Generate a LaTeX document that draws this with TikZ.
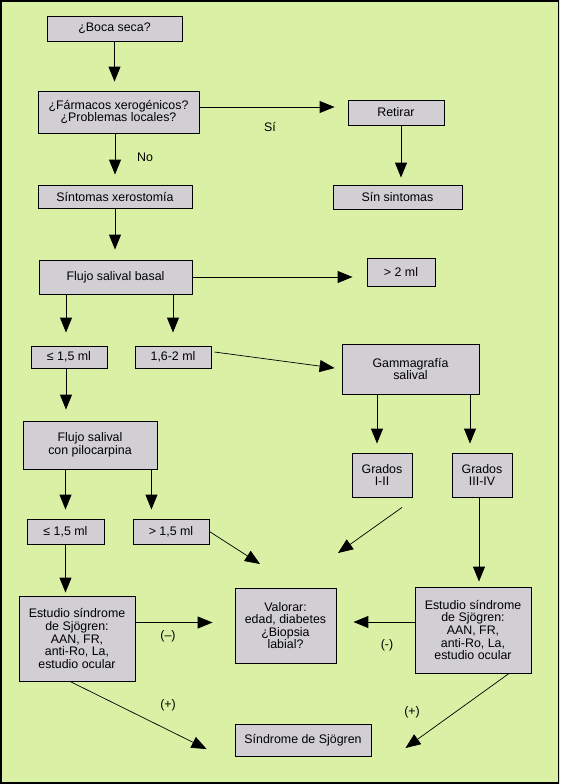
\documentclass[tikz,border=0pt]{standalone}
\usepackage{fontspec}
\setmainfont{Liberation Sans}
\usetikzlibrary{arrows.meta}
\definecolor{bggreen}{RGB}{217,240,165}
\definecolor{boxgray}{RGB}{209,207,211}
\begin{document}
\begin{tikzpicture}[
    x=1pt,y=-1pt,
    box/.style={draw,fill=boxgray,line width=.9pt,align=center,inner sep=0pt,
      font=\fontsize{12.4}{12.6}\selectfont},
    flow/.style={-{Triangle[length=15pt,width=12pt]},line width=1pt},
    thinflow/.style={-{Triangle[length=15pt,width=12pt]},line width=.7pt},
    lbl/.style={font=\fontsize{12.4}{12.6}\selectfont}
  ]
    \fill[bggreen] (0,0) rectangle (560,784);
    \useasboundingbox (0,0) rectangle (560,784);
    \draw[line width=1.5pt] (1,1) rectangle (558.5,783);
    \node[box,minimum width=135pt,minimum height=25pt] (boca) at (114.5,28.5) {¿Boca seca?};
    \node[box,minimum width=161pt,minimum height=42pt] (farm) at (118.5,112) {¿Fármacos xerogénicos?\\¿Problemas locales?};
    \node[box,minimum width=96pt,minimum height=25pt] (retirar) at (396,112.5) {Retirar};
    \node[box,minimum width=129pt,minimum height=24pt] (sinsint) at (397.5,197) {Sín sintomas};
    \node[box,minimum width=154pt,minimum height=23pt] (xero) at (115,196.5) {Síntomas xerostomía};
    \node[box,minimum width=153pt,minimum height=34pt] (basal) at (115.5,277) {Flujo salival basal};
    \node[box,minimum width=68pt,minimum height=28pt] (mas2) at (401,272) {> 2 ml};
    \node[box,minimum width=76pt,minimum height=22pt] (le1) at (69,357) {≤ 1,5 ml};
    \node[box,minimum width=76pt,minimum height=22pt] (mid) at (173,357) {1,6-2 ml};
    \node[box,minimum width=137pt,minimum height=50pt] (gamma) at (410.5,369) {Gammagrafía\\salival};
    \node[box,minimum width=60pt,minimum height=44pt] (gr12) at (382,475) {Grados\\I-II};
    \node[box,minimum width=60pt,minimum height=44pt] (gr34) at (482,475) {Grados\\III-IV};
    \node[box,minimum width=134pt,minimum height=48pt] (pilo) at (90,445) {Flujo salival\\con pilocarpina};
    \node[box,minimum width=77pt,minimum height=25pt] (le2) at (65.5,531.5) {≤ 1,5 ml};
    \node[box,minimum width=76pt,minimum height=25pt] (gt) at (171,531.5) {> 1,5 ml};
    \node[box,minimum width=116pt,minimum height=85pt] (estI) at (77,638.5) {Estudio síndrome\\de Sjögren:\\AAN, FR,\\anti-Ro, La,\\estudio ocular};
    \node[box,minimum width=101pt,minimum height=75pt] (valorar) at (285.5,625.5) {Valorar:\\edad, diabetes\\¿Biopsia\\labial?};
    \node[box,minimum width=116pt,minimum height=86pt] (estD) at (473,630) {Estudio síndrome\\de Sjögren:\\AAN, FR,\\anti-Ro, La,\\estudio ocular};
    \node[box,minimum width=136pt,minimum height=32pt] (sjogren) at (303,740) {Síndrome de Sjögren};
    \node[lbl] (si) at (270,127) {Sí};
    \node[lbl] (no) at (145,157) {No};
    \node[lbl] (negI) at (168,636) {(–)};
    \node[lbl] (posI) at (168,705) {(+)};
    \node[lbl] (negD) at (387,645) {(-)};
    \node[lbl] (posD) at (412,712) {(+)};
    \coordinate (vt1) at (260,564);
    \coordinate (vt2) at (338,553);
    \draw[flow,shorten >=9pt] (boca.south) -- (boca.south |- farm.north);
    \draw[flow,shorten >=13pt] ([yshift=5pt]farm.east) -- ([yshift=5pt]farm.east -| retirar.west);
    \draw[flow,shorten >=7pt] ([xshift=5pt]retirar.south) -- ([xshift=5pt]retirar.south |- sinsint.north);
    \draw[flow,shorten >=10pt] (farm.south -| xero.north) -- (xero.north);
    \draw[flow,shorten >=10pt] (xero.south) -- (xero.south |- basal.north);
    \draw[flow,shorten >=14pt] (basal.east) -- (basal.east -| mas2.west);
    \draw[flow,shorten >=13pt] ([xshift=-3pt]basal.south -| le1.north) -- ([xshift=-3pt]le1.north);
    \draw[flow,shorten >=13pt] (basal.south -| mid.north) -- (mid.north);
    \draw[thinflow,shorten >=7pt] ([shift={(3pt,5pt)}]mid.east) -- (gamma.west);
    \draw[flow,shorten >=9pt] ([xshift=-5pt]gamma.south -| gr12.north) -- ([xshift=-5pt]gr12.north);
    \draw[flow,shorten >=9pt] ([xshift=-12pt]gamma.south -| gr34.north) -- ([xshift=-12pt]gr34.north);
    \draw[flow,shorten >=11pt] ([xshift=-3pt]le1.south) -- ([xshift=-3pt]le1.south |- pilo.north);
    \draw[flow,shorten >=9pt] (pilo.south -| le2.north) -- (le2.north);
    \draw[flow,shorten >=9pt] ([xshift=-6pt]pilo.south east) -- ([xshift=-6pt]pilo.south east |- gt.north);
    \draw[thinflow] (gt.east) -- (vt1);
    \draw[thinflow] ([shift={(20pt,-10pt)}]gr12.south) -- (vt2);
    \draw[flow,shorten >=5pt] ([xshift=-3pt]gr34.south) -- ([xshift=-3pt]gr34.south |- estD.north);
    \draw[flow,shorten >=3pt] (le2.south) -- (le2.south |- estI.north);
    \draw[flow,shorten >=22pt] ([yshift=16pt]estI.east) -- ([yshift=16pt]estI.east -| valorar.west);
    \draw[flow,shorten >=17pt] ([yshift=8pt]estD.west) -- ([yshift=8pt]estD.west -| valorar.east);
    \draw[thinflow] ([xshift=-7pt]estI.south) -- ([shift={(-28pt,-9pt)}]sjogren.west);
    \draw[thinflow] ([xshift=36pt]estD.south) -- ([shift={(34pt,-8pt)}]sjogren.east);
  \end{tikzpicture}
\end{document}
